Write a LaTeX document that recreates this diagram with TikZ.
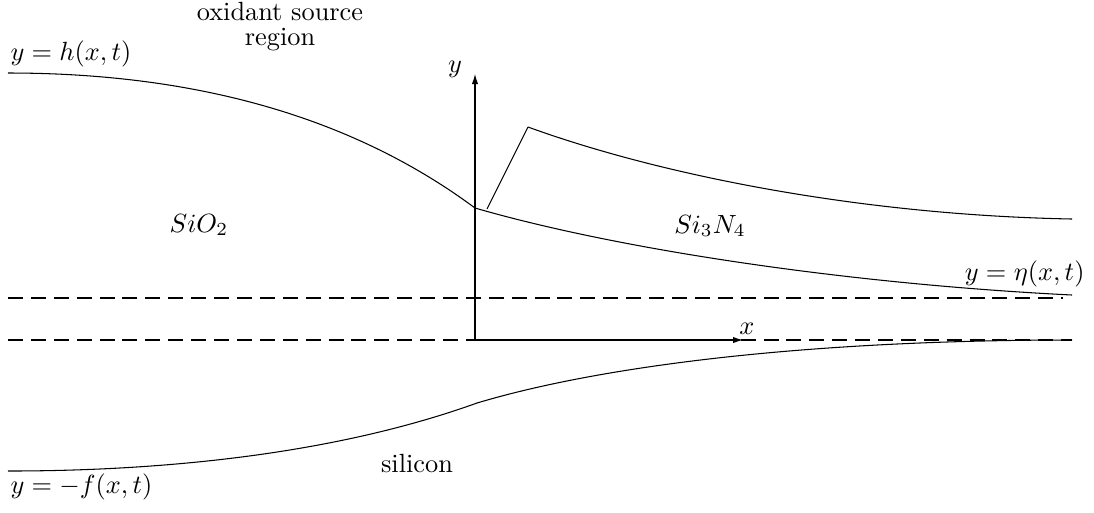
\documentclass[tikz,border=0pt]{standalone}
\usetikzlibrary{arrows.meta}
\begin{document}
\begin{tikzpicture}[x=0.38pt,y=-0.38pt,
  curve/.style={line width=0.4pt},
  guide/.style={line width=0.4pt,dash pattern=on 5.7pt off 3pt},
  axis/.style={line width=0.4pt,-{Latex[length=3.8pt,width=2.4pt]}},
  lbl/.style={inner sep=0pt,font=\fontsize{10}{9.5}\selectfont}]
\useasboundingbox (0,0) rectangle (1094,512);
% named points
\coordinate (O) at (475,340);
\coordinate (Ytip) at (475,74);
\coordinate (Xtip) at (743,340);
\coordinate (J) at (475,208);
\coordinate (S0) at (487,209);
\coordinate (S1) at (528,127);
\coordinate (Hl) at (8,73);
\coordinate (Er) at (1072,295);
\coordinate (Ur) at (1072,219);
\coordinate (Fl) at (8,471);
\coordinate (K) at (477,403);
\coordinate (Fr) at (1072,340);
\coordinate (D1l) at (8,298);
\coordinate (D1r) at (1063,298);
\coordinate (D2l) at (8,340);
\coordinate (D2r) at (1072,340);
% dashed reference lines
\draw[guide] (D1l) -- (D1r);
\draw[guide] (D2l) -- (D2r);
% curves
\draw[curve] (Hl) .. controls (200,73) and (355,119) .. (J);
\draw[curve] (J) .. controls (620,250) and (850,284) .. (Er);
\draw[curve] (S0) -- (S1);
\draw[curve] (S1) .. controls (660,175) and (860,215) .. (Ur);
\draw[curve] (Fl) .. controls (150,471) and (327,457) .. (K);
\draw[curve] (K) .. controls (597,367) and (800,340) .. (Fr);
% axes
\draw[axis] (O) -- (Ytip);
\draw[axis] (O) -- (Xtip);
\node[lbl] (ylab) at (455,69) {$y$};
\node[lbl] (xlab) at (747,329) {$x$};
% labels
\node[lbl,anchor=base] (ox1) at (280,20.7) {oxidant source};
\node[lbl,anchor=base] (ox2) at (280,45.7) {region};
\node[lbl,anchor=base west] (hlab) at (10,60) {$y=h(x,t)$};
\node[lbl,anchor=base west] (flab) at (10,493) {$y=-f(x,t)$};
\node[lbl,anchor=base east] (elab) at (1085,280) {$y=\eta(x,t)$};
\node[lbl,anchor=base] (sio) at (199,232) {$SiO_2$};
\node[lbl,anchor=base] (sin) at (710,233) {$Si_3N_4$};
\node[lbl,anchor=base] (si) at (417,472) {silicon};
\end{tikzpicture}
\end{document}
